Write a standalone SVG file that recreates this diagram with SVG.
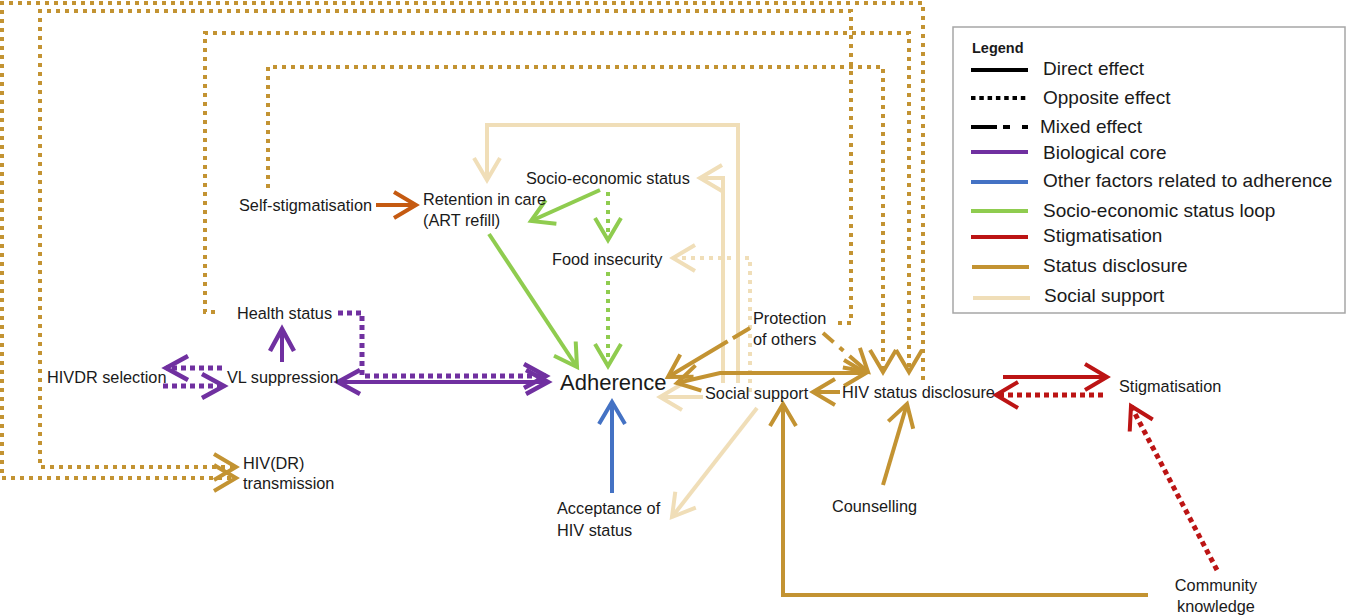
<svg xmlns="http://www.w3.org/2000/svg" width="1347" height="615" viewBox="0 0 1347 615">
<style>
text{font-family:"Liberation Sans",Arial,sans-serif;fill:#1a1a1a}
.n{font-size:16.3px}
.lg{font-size:19px}
.c{fill:none;stroke-width:4}
.gold{stroke:#C39332}
.beige{stroke:#F0DEB8}
.purple{stroke:#7030A0}
.green{stroke:#8FCC4F}
.blue{stroke:#4472C4}
.red{stroke:#BC1414}
.orange{stroke:#C55A11}
.dot{stroke-dasharray:4 5}
.pdot{stroke-width:5;stroke-dasharray:5 4}
</style>
<defs>
<marker id="mGold" viewBox="-30 -20 40 40" markerWidth="40" markerHeight="40" refX="0" refY="0" orient="auto-start-reverse" markerUnits="userSpaceOnUse" overflow="visible"><path d="M-22,-13 L0,0 L-22,13" fill="none" stroke="#C39332" stroke-width="4"/></marker>
<marker id="mBeige" viewBox="-30 -20 40 40" markerWidth="40" markerHeight="40" refX="0" refY="0" orient="auto-start-reverse" markerUnits="userSpaceOnUse" overflow="visible"><path d="M-22,-13 L0,0 L-22,13" fill="none" stroke="#F0DEB8" stroke-width="4"/></marker>
<marker id="mPurple" viewBox="-30 -20 40 40" markerWidth="40" markerHeight="40" refX="0" refY="0" orient="auto-start-reverse" markerUnits="userSpaceOnUse" overflow="visible"><path d="M-22,-12 L0,0 L-22,12" fill="none" stroke="#7030A0" stroke-width="4.5"/></marker>
<marker id="mGreen" viewBox="-30 -20 40 40" markerWidth="40" markerHeight="40" refX="0" refY="0" orient="auto-start-reverse" markerUnits="userSpaceOnUse" overflow="visible"><path d="M-22,-13 L0,0 L-22,13" fill="none" stroke="#8FCC4F" stroke-width="4"/></marker>
<marker id="mBlue" viewBox="-30 -20 40 40" markerWidth="40" markerHeight="40" refX="0" refY="0" orient="auto-start-reverse" markerUnits="userSpaceOnUse" overflow="visible"><path d="M-22,-13 L0,0 L-22,13" fill="none" stroke="#4472C4" stroke-width="4"/></marker>
<marker id="mRed" viewBox="-30 -20 40 40" markerWidth="40" markerHeight="40" refX="0" refY="0" orient="auto-start-reverse" markerUnits="userSpaceOnUse" overflow="visible"><path d="M-22,-13 L0,0 L-22,13" fill="none" stroke="#BC1414" stroke-width="4"/></marker>
<marker id="mOrange" viewBox="-30 -20 40 40" markerWidth="40" markerHeight="40" refX="0" refY="0" orient="auto-start-reverse" markerUnits="userSpaceOnUse" overflow="visible"><path d="M-22,-13 L0,0 L-22,13" fill="none" stroke="#C55A11" stroke-width="4"/></marker>
</defs>
<rect width="1347" height="615" fill="#ffffff"/>

<g id="connectors">
<!-- big status disclosure loops -->
<path class="c gold dot" d="M923,380 L923,3 L2,3 L2,478 L236,478" marker-end="url(#mGold)"/>
<path class="c gold dot" d="M838,323 L851,323 L851,11 L40,11 L40,467 L236,467" marker-end="url(#mGold)"/>
<path class="c gold dot" d="M215,312 L205,312 L205,33 L909,33 L909,372" marker-end="url(#mGold)"/>
<path class="c gold dot" d="M268,188 L268,67 L883,67 L883,372" marker-end="url(#mGold)"/>
<!-- biological core -->
<path class="c purple" stroke-width="4.5" d="M338,382 L548,382" marker-start="url(#mPurple)" marker-end="url(#mPurple)"/>
<path class="c purple pdot" d="M338,313 L362,313 L362,376 L546,376" marker-end="url(#mPurple)"/>
<path class="c purple" stroke-width="4.5" d="M282,362 L282,329" marker-end="url(#mPurple)"/>
<path class="c purple pdot" d="M222,368 L166,368" marker-end="url(#mPurple)"/>
<path class="c purple pdot" d="M163,386 L224,386" marker-end="url(#mPurple)"/>
<!-- socio-economic loop -->
<path class="c green" d="M600,190 L531,221" marker-end="url(#mGreen)"/>
<path class="c green dot" d="M608,192 L608,240" marker-end="url(#mGreen)"/>
<path class="c green" d="M489,234 L577,367" marker-end="url(#mGreen)"/>
<path class="c green dot" d="M608,272 L608,366" marker-end="url(#mGreen)"/>
<!-- other factors -->
<path class="c blue" d="M612,493 L612,402" marker-end="url(#mBlue)"/>
<!-- self-stigmatisation -->
<path class="c orange" d="M376,205 L416,205" marker-end="url(#mOrange)"/>
<!-- social support -->
<path class="c beige" d="M738,383 L738,125 L487,125 L487,180" marker-end="url(#mBeige)"/>
<path class="c beige" d="M723,383 L723,178 L700,178" marker-end="url(#mBeige)"/>
<path class="c beige dot" d="M750,392 L750,258 L673,258" marker-end="url(#mBeige)"/>
<path class="c beige" d="M703,397 L660,397" marker-end="url(#mBeige)"/>
<path class="c beige" d="M757,408 L672,517" marker-end="url(#mBeige)"/>
<!-- status disclosure -->
<path class="c gold" stroke-dasharray="20 6 200" d="M750,328 L668,377" marker-end="url(#mGold)"/>
<path class="c gold" d="M677,383 L720,373 L866,373" marker-start="url(#mGold)" marker-end="url(#mGold)"/>
<path class="c gold" stroke-dasharray="14 8 5 8 100" d="M823,333 L868,372" marker-end="url(#mGold)"/>
<path class="c gold" d="M840,392 L813,392" marker-end="url(#mGold)"/>
<path class="c gold" d="M883,485 L907,404" marker-end="url(#mGold)"/>
<path class="c gold" d="M1148,595 L783,595 L783,404" marker-end="url(#mGold)"/>
<!-- stigmatisation -->
<path class="c red" d="M1003,377 L1107,377" marker-end="url(#mRed)"/>
<path class="c red pdot" d="M1103,395 L996,395" marker-end="url(#mRed)"/>
<path class="c red pdot" d="M1217,570 L1131,406" marker-end="url(#mRed)"/>
</g>

<g id="node-self-stigmatisation"><text class="n" x="239" y="211">Self-stigmatisation</text></g>
<g id="node-retention"><text class="n" x="423" y="205">Retention in care</text><text class="n" x="423" y="226">(ART refill)</text></g>
<g id="node-socio-economic"><text class="n" x="526" y="184">Socio-economic status</text></g>
<g id="node-food-insecurity"><text class="n" x="552" y="265">Food insecurity</text></g>
<g id="node-health-status"><text class="n" x="237" y="319">Health status</text></g>
<g id="node-hivdr-selection"><text class="n" x="47" y="383">HIVDR selection</text></g>
<g id="node-vl-suppression"><text class="n" x="227" y="383">VL suppression</text></g>
<g id="node-adherence"><text x="560" y="390" font-size="22">Adherence</text></g>
<g id="node-protection"><text class="n" x="753" y="324">Protection</text><text class="n" x="753" y="345">of others</text></g>
<g id="node-social-support"><text class="n" x="705" y="399">Social support</text></g>
<g id="node-disclosure"><text class="n" x="842" y="398">HIV status disclosure</text></g>
<g id="node-stigmatisation"><text class="n" x="1119" y="392">Stigmatisation</text></g>
<g id="node-transmission"><text class="n" x="243" y="469">HIV(DR)</text><text class="n" x="243" y="489">transmission</text></g>
<g id="node-acceptance"><text class="n" x="557" y="514">Acceptance of</text><text class="n" x="557" y="536">HIV status</text></g>
<g id="node-counselling"><text class="n" x="832" y="512">Counselling</text></g>
<g id="node-community"><text class="n" x="1216" y="591" text-anchor="middle">Community</text><text class="n" x="1216" y="612" text-anchor="middle">knowledge</text></g>

<g id="legend">
<rect x="953" y="27" width="392" height="286" fill="#ffffff" stroke="#A6A6A6" stroke-width="1.5"/>
<text x="972" y="53" font-size="14.5" font-weight="bold">Legend</text>
<line x1="971" y1="70" x2="1028" y2="70" stroke="#000" stroke-width="4"/>
<text class="lg" x="1043" y="75">Direct effect</text>
<line x1="971" y1="98" x2="1028" y2="98" stroke="#000" stroke-width="4" stroke-dasharray="4.5 3.8"/>
<text class="lg" x="1043" y="104">Opposite effect</text>
<line x1="971" y1="127" x2="1028" y2="127" stroke="#000" stroke-width="4" stroke-dasharray="26 6 7 12 7"/>
<text class="lg" x="1040" y="133">Mixed effect</text>
<line x1="971" y1="152" x2="1028" y2="152" stroke="#7030A0" stroke-width="4"/>
<text class="lg" x="1043" y="159">Biological core</text>
<line x1="971" y1="182" x2="1028" y2="182" stroke="#4472C4" stroke-width="4"/>
<text class="lg" x="1043" y="187">Other factors related to adherence</text>
<line x1="971" y1="211" x2="1028" y2="211" stroke="#8FCC4F" stroke-width="4"/>
<text class="lg" x="1043" y="217">Socio-economic status loop</text>
<line x1="971" y1="237" x2="1028" y2="237" stroke="#BC1414" stroke-width="4"/>
<text class="lg" x="1043" y="242">Stigmatisation</text>
<line x1="972" y1="267" x2="1029" y2="267" stroke="#C39332" stroke-width="4"/>
<text class="lg" x="1043" y="272">Status disclosure</text>
<line x1="973" y1="298" x2="1030" y2="298" stroke="#F0DEB8" stroke-width="4"/>
<text class="lg" x="1044" y="302">Social support</text>
</g>
</svg>
